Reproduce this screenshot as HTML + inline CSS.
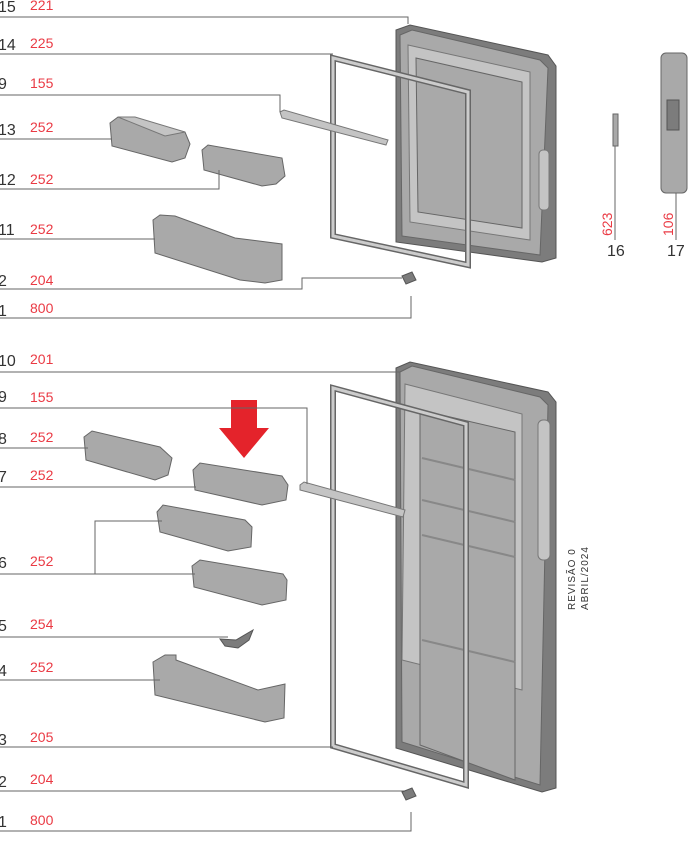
<!DOCTYPE html>
<html><head><meta charset="utf-8"><style>
html,body{margin:0;padding:0;background:#fff}
svg{display:block}
.n{font-family:"Liberation Sans",sans-serif;font-size:16px;fill:#333}
.r{font-family:"Liberation Sans",sans-serif;font-size:14px;fill:#ea3a44}
.l{stroke:#666;stroke-width:1;fill:none}
.p{fill:#a9a9a9;stroke:#666;stroke-width:1}
.d{fill:#7c7c7c;stroke:#555;stroke-width:1}
.lt{fill:#c4c4c4;stroke:#777;stroke-width:1}
</style></head><body>
<svg width="700" height="853" viewBox="0 0 700 853" xmlns="http://www.w3.org/2000/svg">
<!-- TOP DOOR -->
<polygon class="d" points="396,30 410,25 548,55 556,66 556,258 542,262 396,242"/>
<polygon class="p" points="400,35 412,30 540,60 548,68 540,255 402,236"/>
<polygon class="lt" points="408,45 530,72 530,240 410,222"/>
<polygon class="p" points="416,58 522,82 522,228 418,212"/>
<rect x="539" y="150" width="10" height="60" rx="4" class="lt"/>
<!-- gasket 14 -->
<polygon fill="none" stroke="#666" stroke-width="6" points="333,58 468,92 468,265 333,236"/>
<polygon fill="none" stroke="#ccc" stroke-width="3" points="333,58 468,92 468,265 333,236"/>
<!-- 9 bar top -->
<polygon class="lt" points="280,112 284,110 388,140 386,145 282,118"/>
<!-- 13 -->
<polygon class="p" points="110,123 118,117 185,132 190,144 185,158 172,162 112,146"/>
<polygon class="lt" points="118,117 135,117 185,132 165,136"/>
<!-- 12 -->
<polygon class="p" points="202,150 208,145 282,158 285,176 276,184 262,186 204,170"/>
<!-- 11 -->
<polygon class="p" points="153,220 160,215 175,216 235,238 282,244 282,280 265,283 240,280 155,253"/>
<!-- 2 hinge top -->
<polygon class="d" points="402,276 412,272 416,280 406,284"/>
<!-- 16 -->
<rect x="613" y="114" width="5" height="32" class="p"/>
<!-- 17 -->
<rect x="661" y="53" width="26" height="140" rx="5" class="p"/>
<rect x="667" y="100" width="12" height="30" class="d"/>

<!-- BOTTOM DOOR -->
<polygon class="d" points="396,368 410,362 548,392 556,402 556,788 542,792 396,748"/>
<polygon class="p" points="400,372 412,366 540,397 548,405 540,785 402,742"/>
<polygon class="lt" points="405,384 522,414 522,690 402,660"/>
<polygon class="p" points="420,410 515,432 515,780 420,745"/>
<rect x="538" y="420" width="12" height="140" rx="5" class="lt"/>
<g stroke="#888" stroke-width="2">
<line x1="422" y1="458" x2="515" y2="480"/><line x1="422" y1="500" x2="515" y2="522"/><line x1="422" y1="535" x2="515" y2="557"/><line x1="422" y1="640" x2="515" y2="662"/>
</g>
<!-- gasket 3 -->
<polygon fill="none" stroke="#666" stroke-width="6" points="333,388 466,424 466,785 333,746"/>
<polygon fill="none" stroke="#ccc" stroke-width="3" points="333,388 466,424 466,785 333,746"/>
<!-- bar 9 -->
<polygon class="lt" points="300,485 304,482 405,510 403,517 300,490"/>
<!-- 8 -->
<polygon class="p" points="84,437 92,431 160,447 172,458 168,475 155,480 86,460"/>
<!-- 7 -->
<polygon class="p" points="193,470 200,463 282,476 288,485 286,500 262,505 195,490"/>
<!-- 6 upper -->
<polygon class="p" points="157,512 163,505 245,520 252,527 251,547 228,551 160,532"/>
<!-- 6 lower -->
<polygon class="p" points="192,566 200,560 283,574 287,580 286,600 262,605 194,587"/>
<!-- 5 -->
<polygon class="d" points="220,639 236,640 253,630 249,640 238,648 225,646"/>
<!-- 4 -->
<polygon class="p" points="153,662 165,655 176,655 176,660 258,690 285,684 284,718 265,722 155,695"/>

<!-- red arrow -->
<polygon fill="#e4232b" points="231,400 257,400 257,428 269,428 244,458 219,428 231,428"/>

<!-- leader lines -->
<g class="l">
<polyline points="0,17 408,17 408,24"/>
<line x1="0" y1="54" x2="333" y2="54"/>
<polyline points="0,95 280,95 280,112"/>
<line x1="0" y1="139" x2="112" y2="139"/>
<polyline points="0,189 219,189 219,170"/>
<line x1="0" y1="239" x2="155" y2="239"/>
<polyline points="0,289 302,289 302,278 402,278"/>
<polyline points="0,318 411,318 411,296"/>
<line x1="0" y1="372" x2="400" y2="372"/>
<polyline points="0,408 307,408 307,484"/>
<line x1="0" y1="448" x2="88" y2="448"/>
<line x1="0" y1="487" x2="196" y2="487"/>
<polyline points="0,574 195,574"/>
<polyline points="95,574 95,521 162,521"/>
<line x1="0" y1="637" x2="228" y2="637"/>
<line x1="0" y1="680" x2="160" y2="680"/>
<line x1="0" y1="747" x2="333" y2="747"/>
<polyline points="0,791 408,791"/>
<polyline points="0,831 411,831 411,812"/>
<line x1="615" y1="146" x2="615" y2="240"/>
<line x1="676" y1="193" x2="676" y2="240"/>
</g>
<!-- bottom hinge -->
<polygon class="d" points="402,792 412,788 416,796 406,800"/>

<!-- labels -->
<g>
<text class="n" x="-2" y="12">15</text><text class="r" x="30" y="10">221</text>
<text class="n" x="-2" y="50">14</text><text class="r" x="30" y="48">225</text>
<text class="n" x="-2" y="89">9</text><text class="r" x="30" y="88">155</text>
<text class="n" x="-2" y="135">13</text><text class="r" x="30" y="132">252</text>
<text class="n" x="-2" y="185">12</text><text class="r" x="30" y="184">252</text>
<text class="n" x="-2" y="235">11</text><text class="r" x="30" y="234">252</text>
<text class="n" x="-2" y="286">2</text><text class="r" x="30" y="285">204</text>
<text class="n" x="-2" y="316">1</text><text class="r" x="30" y="313">800</text>
<text class="n" x="-2" y="366">10</text><text class="r" x="30" y="364">201</text>
<text class="n" x="-2" y="402">9</text><text class="r" x="30" y="402">155</text>
<text class="n" x="-2" y="444">8</text><text class="r" x="30" y="442">252</text>
<text class="n" x="-2" y="482">7</text><text class="r" x="30" y="480">252</text>
<text class="n" x="-2" y="568">6</text><text class="r" x="30" y="566">252</text>
<text class="n" x="-2" y="631">5</text><text class="r" x="30" y="629">254</text>
<text class="n" x="-2" y="676">4</text><text class="r" x="30" y="672">252</text>
<text class="n" x="-2" y="745">3</text><text class="r" x="30" y="742">205</text>
<text class="n" x="-2" y="787">2</text><text class="r" x="30" y="784">204</text>
<text class="n" x="-2" y="827">1</text><text class="r" x="30" y="825">800</text>
<text class="n" x="607" y="256">16</text><text class="n" x="667" y="256">17</text>
<text class="r" transform="translate(612,236) rotate(-90)">623</text>
<text class="r" transform="translate(673,236) rotate(-90)">106</text>
<text transform="translate(575,610) rotate(-90)" font-family="Liberation Sans,sans-serif" font-size="10" fill="#333" letter-spacing="1">REVISÃO 0</text>
<text transform="translate(588,610) rotate(-90)" font-family="Liberation Sans,sans-serif" font-size="10" fill="#333" letter-spacing="1">ABRIL/2024</text>
</g>
</svg>
</body></html>
